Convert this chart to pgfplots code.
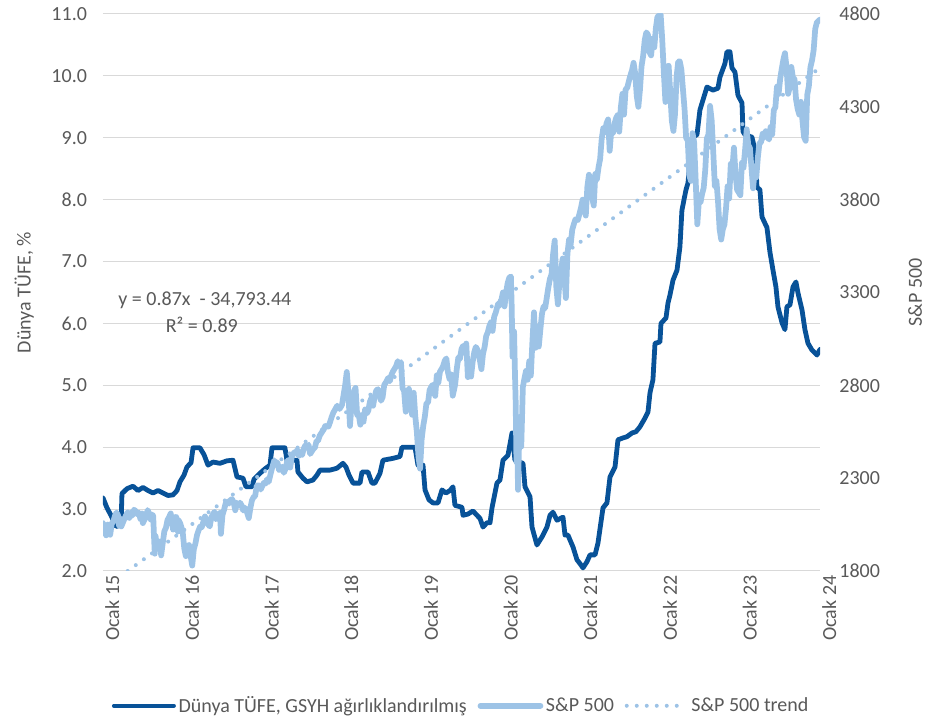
\documentclass[border=0pt]{standalone}
\usepackage{fontspec}
\setmainfont{Carlito}
\usepackage{pgfplots}
\usepackage{pgfplotstable}
\pgfplotsset{compat=1.18}
\usetikzlibrary{calc}
\definecolor{cpiblue}{RGB}{8,82,152}
\definecolor{spblue}{RGB}{157,195,230}
\definecolor{txtgray}{RGB}{89,89,89}
\definecolor{gridgray}{RGB}{217,217,217}

% Dunya TUFE (%), x in decimal years
\pgfplotstableread{
x y
2015.000 3.18
2015.050 3.02
2015.100 2.90
2015.163 2.72
2015.226 2.74
2015.238 3.25
2015.301 3.33
2015.377 3.37
2015.439 3.30
2015.502 3.35
2015.565 3.30
2015.628 3.26
2015.690 3.30
2015.753 3.26
2015.816 3.22
2015.879 3.23
2015.929 3.30
2015.966 3.44
2016.017 3.55
2016.054 3.68
2016.105 3.75
2016.130 3.99
2016.217 3.99
2016.268 3.88
2016.318 3.71
2016.381 3.76
2016.469 3.74
2016.556 3.78
2016.632 3.79
2016.682 3.52
2016.757 3.50
2016.795 3.36
2016.870 3.36
2016.895 3.48
2016.971 3.58
2017.033 3.65
2017.096 3.71
2017.121 3.99
2017.284 3.99
2017.309 3.79
2017.435 3.79
2017.447 3.60
2017.510 3.50
2017.561 3.44
2017.636 3.47
2017.686 3.55
2017.724 3.63
2017.849 3.63
2017.937 3.66
2018.012 3.74
2018.050 3.68
2018.088 3.55
2018.138 3.42
2018.226 3.42
2018.251 3.60
2018.326 3.60
2018.376 3.42
2018.414 3.42
2018.477 3.58
2018.514 3.79
2018.640 3.82
2018.728 3.85
2018.753 4.00
2018.916 4.00
2018.954 3.71
2019.017 3.71
2019.042 3.31
2019.092 3.15
2019.142 3.10
2019.205 3.10
2019.255 3.31
2019.305 3.26
2019.355 3.30
2019.393 3.36
2019.418 3.06
2019.506 3.03
2019.519 2.90
2019.581 2.92
2019.644 2.97
2019.694 2.90
2019.732 2.85
2019.770 2.71
2019.820 2.78
2019.858 2.78
2019.883 3.02
2019.945 3.42
2019.983 3.47
2020.021 3.79
2020.083 3.87
2020.134 4.23
2020.171 3.79
2020.222 3.76
2020.272 3.74
2020.297 3.36
2020.360 3.20
2020.385 2.71
2020.447 2.42
2020.510 2.55
2020.573 2.71
2020.611 2.90
2020.648 2.95
2020.698 2.82
2020.774 2.87
2020.799 2.58
2020.836 2.58
2020.899 2.39
2020.950 2.18
2020.987 2.12
2021.025 2.05
2021.075 2.15
2021.113 2.26
2021.176 2.26
2021.213 2.45
2021.276 3.02
2021.326 3.10
2021.364 3.52
2021.427 3.68
2021.464 4.12
2021.527 4.15
2021.577 4.17
2021.640 4.23
2021.690 4.25
2021.740 4.33
2021.803 4.47
2021.841 4.57
2021.866 4.88
2021.903 5.09
2021.929 5.68
2021.991 5.70
2022.004 6.00
2022.067 6.09
2022.092 6.33
2022.117 6.46
2022.155 6.70
2022.205 6.86
2022.242 7.24
2022.267 7.83
2022.293 8.00
2022.318 8.16
2022.343 8.27
2022.393 9.00
2022.456 9.05
2022.493 9.45
2022.531 9.61
2022.581 9.82
2022.657 9.77
2022.719 9.80
2022.744 9.98
2022.807 10.20
2022.832 10.39
2022.870 10.39
2022.895 10.13
2022.933 10.06
2022.970 9.69
2023.021 9.56
2023.033 9.10
2023.058 9.05
2023.146 9.01
2023.184 8.80
2023.209 8.20
2023.246 8.16
2023.272 7.72
2023.334 7.55
2023.372 7.15
2023.410 6.86
2023.447 6.59
2023.472 6.27
2023.523 6.01
2023.560 5.90
2023.585 6.27
2023.623 6.30
2023.661 6.59
2023.698 6.67
2023.724 6.49
2023.774 6.22
2023.811 5.90
2023.849 5.68
2023.899 5.57
2023.962 5.49
2024.000 5.58
}\cpidata

% S&P 500
\pgfplotstableread{
x y
2015.00 2058
2015.02 2011
2015.04 1992
2015.06 2050
2015.08 2022
2015.09 1995
2015.11 2055
2015.13 2068
2015.15 2097
2015.17 2115
2015.19 2098
2015.20 2045
2015.22 2081
2015.23 2040
2015.25 2061
2015.27 2082
2015.29 2100
2015.31 2117
2015.33 2086
2015.35 2115
2015.37 2099
2015.39 2130
2015.41 2123
2015.43 2106
2015.45 2114
2015.47 2080
2015.49 2110
2015.50 2058
2015.52 2076
2015.54 2093
2015.56 2128
2015.58 2110
2015.60 2077
2015.62 2104
2015.63 2096
2015.64 1990
2015.65 1893
2015.66 1988
2015.68 1921
2015.70 1961
2015.72 1942
2015.73 1884
2015.75 1951
2015.77 2014
2015.79 2033
2015.81 2075
2015.83 2090
2015.85 2110
2015.86 2081
2015.88 2023
2015.90 2089
2015.92 2091
2015.94 2012
2015.95 2073
2015.97 2056
2016.00 2012
2016.02 1922
2016.04 1880
2016.06 1906
2016.08 1940
2016.10 1880
2016.12 1829
2016.14 1917
2016.16 1948
2016.18 1993
2016.20 2019
2016.22 2040
2016.24 2036
2016.26 2066
2016.28 2094
2016.30 2065
2016.32 2051
2016.34 2040
2016.36 2090
2016.38 2105
2016.40 2119
2016.42 2079
2016.44 2085
2016.47 2113
2016.48 2000
2016.50 2102
2016.52 2130
2016.54 2165
2016.56 2173
2016.58 2163
2016.60 2182
2016.62 2187
2016.64 2170
2016.66 2127
2016.68 2168
2016.70 2151
2016.72 2168
2016.74 2153
2016.76 2126
2016.78 2141
2016.80 2126
2016.83 2085
2016.85 2139
2016.87 2181
2016.89 2198
2016.91 2204
2016.93 2259
2016.95 2262
2016.98 2239
2017.00 2258
2017.02 2275
2017.04 2271
2017.06 2294
2017.08 2280
2017.10 2316
2017.12 2351
2017.15 2396
2017.17 2372
2017.19 2385
2017.21 2344
2017.23 2348
2017.25 2362
2017.27 2329
2017.29 2349
2017.31 2388
2017.33 2399
2017.35 2357
2017.37 2415
2017.40 2439
2017.42 2433
2017.44 2453
2017.46 2419
2017.48 2432
2017.50 2425
2017.52 2459
2017.54 2477
2017.56 2470
2017.58 2480
2017.60 2430
2017.62 2444
2017.64 2457
2017.66 2465
2017.68 2500
2017.70 2502
2017.72 2529
2017.75 2549
2017.77 2562
2017.79 2581
2017.81 2579
2017.83 2578
2017.85 2602
2017.87 2629
2017.89 2652
2017.92 2675
2017.94 2690
2017.97 2673
2018.00 2695
2018.02 2748
2018.04 2802
2018.06 2872
2018.08 2762
2018.10 2581
2018.12 2698
2018.14 2747
2018.16 2779
2018.17 2786
2018.19 2640
2018.21 2641
2018.23 2588
2018.25 2640
2018.27 2604
2018.29 2670
2018.31 2648
2018.33 2663
2018.35 2711
2018.37 2733
2018.39 2690
2018.41 2738
2018.43 2772
2018.45 2779
2018.47 2749
2018.49 2717
2018.51 2736
2018.53 2802
2018.55 2815
2018.58 2840
2018.60 2822
2018.62 2856
2018.64 2875
2018.66 2889
2018.68 2904
2018.70 2930
2018.72 2914
2018.74 2925
2018.76 2785
2018.78 2768
2018.80 2658
2018.82 2711
2018.84 2781
2018.86 2690
2018.88 2641
2018.90 2760
2018.92 2633
2018.94 2546
2018.96 2416
2018.98 2351
2019.00 2510
2019.02 2582
2019.04 2632
2019.06 2704
2019.08 2707
2019.10 2775
2019.12 2792
2019.14 2803
2019.17 2743
2019.19 2854
2019.21 2815
2019.23 2874
2019.25 2888
2019.27 2905
2019.29 2933
2019.31 2945
2019.33 2870
2019.35 2834
2019.37 2859
2019.39 2744
2019.42 2803
2019.44 2886
2019.46 2950
2019.48 2942
2019.50 2995
2019.52 3013
2019.54 2976
2019.56 3025
2019.58 2844
2019.60 2883
2019.62 2847
2019.64 2926
2019.66 2978
2019.68 3007
2019.70 2992
2019.72 2961
2019.75 2887
2019.77 2970
2019.79 3006
2019.81 3066
2019.83 3085
2019.85 3120
2019.87 3140
2019.89 3093
2019.91 3169
2019.93 3192
2019.96 3240
2019.98 3230
2020.00 3258
2020.02 3300
2020.04 3225
2020.06 3300
2020.08 3352
2020.10 3380
2020.12 3386
2020.13 3225
2020.14 2954
2020.16 3090
2020.17 2882
2020.18 2711
2020.19 2386
2020.20 2480
2020.21 2237
2020.22 2447
2020.23 2630
2020.25 2470
2020.27 2790
2020.29 2837
2020.31 2878
2020.33 2830
2020.35 2930
2020.37 2852
2020.39 3036
2020.41 3193
2020.43 3002
2020.45 3117
2020.47 3009
2020.49 3100
2020.51 3185
2020.53 3225
2020.55 3216
2020.57 3271
2020.59 3327
2020.61 3373
2020.63 3397
2020.65 3508
2020.67 3580
2020.69 3331
2020.71 3236
2020.73 3363
2020.75 3419
2020.77 3483
2020.79 3390
2020.81 3270
2020.83 3510
2020.85 3585
2020.87 3557
2020.89 3638
2020.91 3668
2020.93 3694
2020.96 3690
2021.00 3756
2021.02 3800
2021.04 3768
2021.06 3714
2021.08 3871
2021.10 3934
2021.12 3906
2021.14 3811
2021.16 3768
2021.18 3939
2021.20 3910
2021.22 3974
2021.24 4019
2021.26 4128
2021.28 4185
2021.30 4163
2021.32 4211
2021.34 4232
2021.36 4063
2021.38 4173
2021.40 4156
2021.42 4208
2021.44 4239
2021.46 4255
2021.48 4166
2021.50 4297
2021.52 4370
2021.54 4258
2021.56 4395
2021.58 4402
2021.60 4437
2021.62 4469
2021.64 4496
2021.66 4537
2021.68 4480
2021.70 4358
2021.72 4300
2021.74 4391
2021.76 4519
2021.78 4574
2021.80 4660
2021.82 4701
2021.84 4689
2021.86 4594
2021.88 4577
2021.90 4668
2021.92 4620
2021.94 4725
2021.96 4786
2022.00 4796
2022.02 4659
2022.04 4482
2022.06 4326
2022.08 4500
2022.10 4521
2022.12 4380
2022.14 4225
2022.16 4170
2022.18 4260
2022.20 4463
2022.22 4543
2022.24 4545
2022.26 4500
2022.28 4393
2022.30 4287
2022.32 4131
2022.34 4123
2022.36 3930
2022.38 3901
2022.40 4158
2022.42 4109
2022.44 3900
2022.46 3667
2022.48 3795
2022.50 3785
2022.52 3831
2022.54 3863
2022.56 3962
2022.58 4130
2022.60 4151
2022.62 4305
2022.64 4228
2022.66 4057
2022.68 3873
2022.70 3901
2022.72 3790
2022.74 3640
2022.76 3585
2022.78 3640
2022.80 3665
2022.82 3752
2022.84 3872
2022.86 3806
2022.88 3993
2022.90 3966
2022.92 4080
2022.94 3934
2022.96 3852
2022.98 3839
2023.00 3824
2023.02 3999
2023.04 3972
2023.06 4070
2023.08 4179
2023.10 4090
2023.12 4079
2023.14 3970
2023.16 3861
2023.18 3951
2023.20 3920
2023.22 4027
2023.24 4105
2023.26 4109
2023.28 4155
2023.30 4135
2023.32 4169
2023.34 4138
2023.36 4124
2023.38 4192
2023.40 4151
2023.42 4282
2023.44 4298
2023.46 4409
2023.48 4369
2023.50 4450
2023.52 4505
2023.54 4554
2023.56 4589
2023.58 4513
2023.60 4370
2023.62 4405
2023.64 4515
2023.66 4457
2023.68 4450
2023.70 4338
2023.72 4288
2023.74 4258
2023.76 4327
2023.78 4224
2023.80 4137
2023.82 4117
2023.84 4365
2023.86 4411
2023.88 4514
2023.90 4550
2023.92 4604
2023.94 4719
2023.96 4754
2024.00 4770
}\spdata

\begin{document}
\begin{tikzpicture}[font=\fontsize{15}{18}\selectfont]
\pgfplotsset{
  every axis/.append style={
    scale only axis,
    width=537.75pt, height=417.75pt,
    xmin=2015, xmax=2024,
    clip=true,
    axis line style={draw=none},
    major tick length=0pt,
    tick label style={text=txtgray, font=\fontsize{15}{18}\selectfont},
    label style={text=txtgray, font=\fontsize{15}{18}\selectfont},
    /pgf/number format/assume math mode=true,
    /pgf/number format/1000 sep={},
  },
}
\begin{axis}[
  name=left,
  ymin=2, ymax=11,
  ytick={2,3,...,11},
  yticklabel={\pgfmathprintnumber[fixed,fixed zerofill,precision=1]{\tick}},
  yticklabel style={anchor=east, xshift=-8.5pt},
  xtick={2015,2016,...,2024},
  xticklabels={Ocak 15,Ocak 16,Ocak 17,Ocak 18,Ocak 19,Ocak 20,Ocak 21,Ocak 22,Ocak 23,Ocak 24},
  xticklabel style={rotate=90, anchor=east, yshift=-7pt},
  ymajorgrids,
  grid style={gridgray, line width=0.75pt},
  ylabel={Dünya TÜFE, \%},
  ylabel style={at={(axis description cs:-0.11,0.5)}, anchor=center},
]
\addplot[cpiblue, line width=3.6pt, line join=round, line cap=round] table[x=x, y=y] {\cpidata};
\node[anchor=west, text=txtgray, inner sep=0pt] at (axis cs:2015.19,6.38) {y = 0.87x\ \ - 34,793.44};
\node[anchor=center, text=txtgray, inner sep=0pt] at (axis cs:2016.24,5.97) {R² = 0.89};
\end{axis}
\begin{axis}[
  axis x line=none,
  axis y line*=right,
  ymin=1800, ymax=4800,
  ytick={1800,2300,...,4800},
  yticklabel style={anchor=west, xshift=11pt},
  ylabel={S\&P 500},
  ylabel style={at={(axis description cs:1.1325,0.5)}, anchor=center, rotate=0},
  legend style={at={(0.5,-0.242)}, anchor=center, draw=none, fill=none,
    legend columns=-1, text=txtgray, font=\fontsize{15}{18}\selectfont,
    /tikz/every even column/.append style={column sep=6pt},
    /tikz/every odd column/.append style={column sep=0pt}},
  legend image code/.code={\draw[#1] (0pt,0pt) -- (45pt,0pt);},
]
\addlegendimage{cpiblue, line width=3pt, line cap=round}
\addlegendentry{Dünya TÜFE, GSYH ağırlıklandırılmış}
\addplot[spblue, line width=4.3pt, line join=round, line cap=round] table[x=x, y=y] {\spdata};
\addlegendentry{S\&P 500}
\addplot[spblue, line width=3pt, line cap=round, dash pattern=on 0pt off 7.5pt] coordinates {(2015.31,1800) (2024.0,4510)};
\addlegendentry{S\&P 500 trend}
\end{axis}
\path (left.south west) ++(-77.25pt,-111.75pt) rectangle ($(left.north east)+(87pt,10.5pt)$);
\end{tikzpicture}
\end{document}
